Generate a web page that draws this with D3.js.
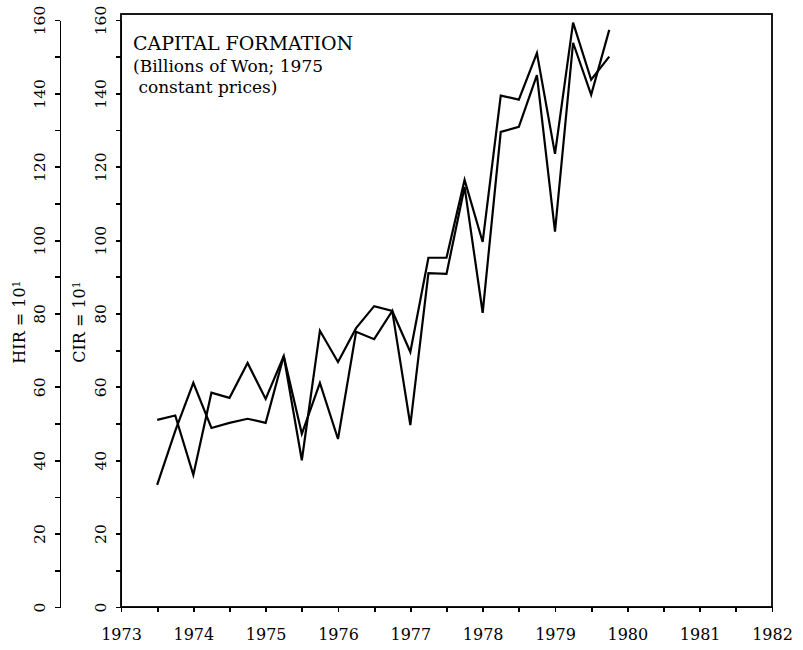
<!DOCTYPE html>
<meta charset="utf-8">
<style>
body { margin: 0; background: #fff; }
text { font-family: "DejaVu Serif", "Liberation Serif", serif; fill: #000; }
.axis path, .axis line { stroke: #000; stroke-width: 1.8px; shape-rendering: crispEdges; }
.series { fill: none; stroke: #000; stroke-width: 2.2px; stroke-linejoin: miter; }
</style>
<body>
<div id="chart"></div>
<script src="https://d3js.org/d3.v7.min.js"></script>
<script>
var quarters = [1973.5, 1973.75, 1974, 1974.25, 1974.5, 1974.75, 1975, 1975.25, 1975.5,
                1975.75, 1976, 1976.25, 1976.5, 1976.75, 1977, 1977.25, 1977.5, 1977.75,
                1978, 1978.25, 1978.5, 1978.75, 1979, 1979.25, 1979.5, 1979.75];
var seriesA = [51.0, 52.2, 36.0, 58.4, 57.0, 66.5, 56.7, 68.4, 40.0, 75.3, 66.8, 76.0, 82.0,
               80.7, 69.5, 95.2, 95.2, 116.4, 99.5, 139.4, 138.3, 151.0, 123.5, 159.3, 143.7, 150.0];
var seriesB = [33.3, 48.0, 61.1, 48.8, 50.2, 51.3, 50.2, 68.4, 47.2, 61.1, 45.8, 75.0, 73.0,
               80.7, 49.6, 91.0, 90.8, 114.5, 80.2, 129.5, 130.9, 145.0, 102.3, 153.8, 139.6, 157.3];
var yearLabels = [1973, 1974, 1975, 1976, 1977, 1978, 1979, 1980, 1981, 1982];
var titleLines = ["CAPITAL FORMATION", "(Billions of Won; 1975", " constant prices)"];

var W = 803, H = 650;
var svg = d3.select("#chart").append("svg")
    .attr("width", W)
    .attr("height", H);

var x = d3.scaleLinear().domain([1973, 1982]).range([121, 772]);
var y = d3.scaleLinear().domain([0, 160]).range([607, 20]);

var yTicks = d3.range(0, 161, 10);
var xTicks = d3.range(1973, 1982.01, 0.5);

// frame
svg.append("rect")
    .attr("x", x(1973)).attr("y", 14)
    .attr("width", x(1982) - x(1973)).attr("height", y(0) - 14)
    .attr("fill", "none").attr("stroke", "#000").attr("stroke-width", 1.8);

function leftAxis(xpos) {
  var g = svg.append("g")
      .attr("class", "axis")
      .attr("transform", "translate(" + xpos + ",0)")
      .call(d3.axisLeft(y).tickValues(yTicks).tickSize(5).tickSizeOuter(0)
        .tickFormat(function(d) { return d % 20 ? "" : d; }));
  g.selectAll(".tick text")
      .attr("font-size", 15.5)
      .attr("text-anchor", "middle")
      .attr("dy", 0)
      .attr("x", 0)
      .attr("y", 0)
      .attr("transform", "translate(-15,0) rotate(-90)");
  return g;
}
leftAxis(60);
leftAxis(x(1973));

var xAxis = svg.append("g")
    .attr("class", "axis")
    .attr("transform", "translate(0," + y(0) + ")")
    .call(d3.axisBottom(x).tickValues(xTicks).tickSize(5).tickSizeOuter(0)
      .tickFormat(function(d) { return yearLabels.indexOf(d) >= 0 ? d : ""; }));
xAxis.selectAll("text")
    .attr("font-size", 16)
    .attr("y", 33)
    .attr("dy", 0);

// axis titles
function axisTitle(xpos, name) {
  var t = svg.append("text")
      .attr("transform", "translate(" + xpos + ",322) rotate(-90)")
      .attr("text-anchor", "middle")
      .attr("font-size", 16);
  t.append("tspan").text(name + " = 10");
  t.append("tspan").attr("dy", "-0.45em").attr("font-size", 11).text("1");
}
axisTitle(25, "HIR");
axisTitle(85, "CIR");

// title block
svg.append("g").selectAll("text")
    .data(titleLines)
    .enter().append("text")
    .attr("x", 133)
    .attr("y", function(d, i) { return i == 0 ? 50 : 50 + 22 + (i - 1) * 21; })
    .attr("font-size", function(d, i) { return i == 0 ? 19 : 17; })
    .style("white-space", "pre")
    .text(function(d) { return d; });

var line = d3.line()
    .x(function(d) { return x(d[0]); })
    .y(function(d) { return y(d[1]); });

[seriesA, seriesB].forEach(function(s) {
  svg.append("path")
      .attr("class", "series")
      .attr("d", line(quarters.map(function(q, i) { return [q, s[i]]; })));
});
</script>
</body>
